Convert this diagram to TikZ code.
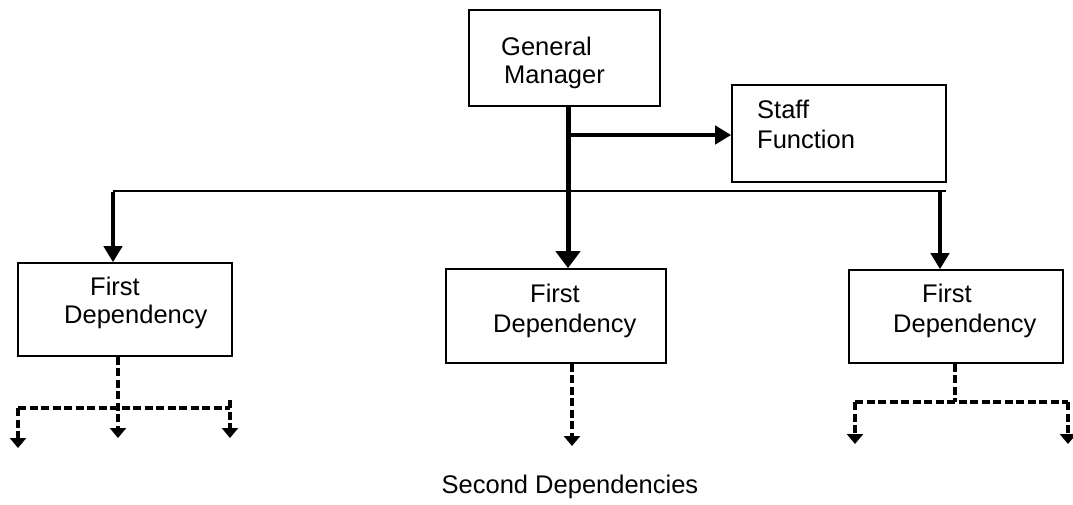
\documentclass[tikz,border=0pt]{standalone}
\usepackage{fontspec}
\setmainfont{Liberation Sans}
\usetikzlibrary{arrows.meta}
\begin{document}
\begin{tikzpicture}[x=1pt,y=-1pt,
  box/.style={draw,line width=1.6pt,rectangle,inner sep=0pt},
  txt/.style={anchor=base west,inner sep=0pt,font=\fontsize{25.5}{29}\selectfont},
  solidarr/.style={line width=4.5pt,-{Triangle[width=18pt,length=16pt]}},
  bigarr/.style={line width=5pt,-{Triangle[width=24pt,length=17pt]}},
  thinline/.style={line width=2pt},
  dashline/.style={line width=4pt,dash pattern=on 8pt off 3.5pt},
  dasharr/.style={line width=4pt,dash pattern=on 8pt off 3.5pt,-{Triangle[width=16pt,length=10pt]}}]
\useasboundingbox (0,0) rectangle (1073,504);
% boxes
\node[box,minimum width=191pt,minimum height=96pt] (gm) at (564.5,58) {};
\node[box,minimum width=214pt,minimum height=97pt] (staff) at (839,133.5) {};
\node[box,minimum width=214pt,minimum height=93pt] (left) at (125,309.5) {};
\node[box,minimum width=220pt,minimum height=94pt] (mid) at (556,316) {};
\node[box,minimum width=214pt,minimum height=93pt] (right) at (956,316.5) {};
% texts
\node[txt] (gm1) at (501,55) {General};
\node[txt] (gm2) at (504,83) {Manager};
\node[txt] (st1) at (757,118) {Staff};
\node[txt] (st2) at (757,148) {Function};
\node[txt] (l1) at (90,295) {First};
\node[txt] (l2) at (64,323) {Dependency};
\node[txt] (m1) at (530,302) {First};
\node[txt] (m2) at (493,332) {Dependency};
\node[txt] (r1) at (922,302) {First};
\node[txt] (r2) at (893,332) {Dependency};
\node[anchor=base,inner sep=0pt,font=\fontsize{25.5}{29}\selectfont] (sd) at (570,493) {Second Dependencies};
% solid connectors
\coordinate (j) at (568,135);
\coordinate (hl) at (113,191);
\coordinate (hr) at (946,191);
\coordinate (hr2) at (940,191);
\draw[bigarr] (gm.south -| j) -- (mid.north -| j);
\draw[solidarr] (j) -- (staff.west |- j);
\draw[thinline] (hl) -- (hr);
\draw[solidarr,line width=4pt] ([yshift=-1pt]hl) -- (left.north -| hl);
\draw[solidarr,line width=4pt] ([yshift=-1pt]hr2) -- (right.north -| hr2);
% dashed connectors left
\coordinate (ld) at (118,408);
\coordinate (ldl) at (18,408);
\coordinate (ldr) at (230,408);
\coordinate (ldrt) at (230,400);
\coordinate (lt1) at (18,448);
\coordinate (lt2) at (118,438);
\coordinate (lt3) at (230,438);
\draw[dashline] (ldl) -- (ldr);
\draw[dasharr] (left.south -| ld) -- (lt2);
\draw[dasharr] (ldl) -- (lt1);
\draw[dasharr] (ldrt) -- (lt3);
% dashed middle
\coordinate (mt) at (572,446);
\draw[dasharr] (mid.south -| mt) -- (mt);
% dashed right
\coordinate (rd) at (955,402);
\coordinate (rdl) at (855,402);
\coordinate (rdr) at (1068,402);
\coordinate (rt1) at (855,444);
\coordinate (rt2) at (1068,444);
\draw[dashline] (right.south -| rd) -- (rd);
\draw[dashline] (rdl) -- (rdr);
\draw[dasharr] (rdl) -- (rt1);
\draw[dasharr] (rdr) -- (rt2);
\end{tikzpicture}
\end{document}
